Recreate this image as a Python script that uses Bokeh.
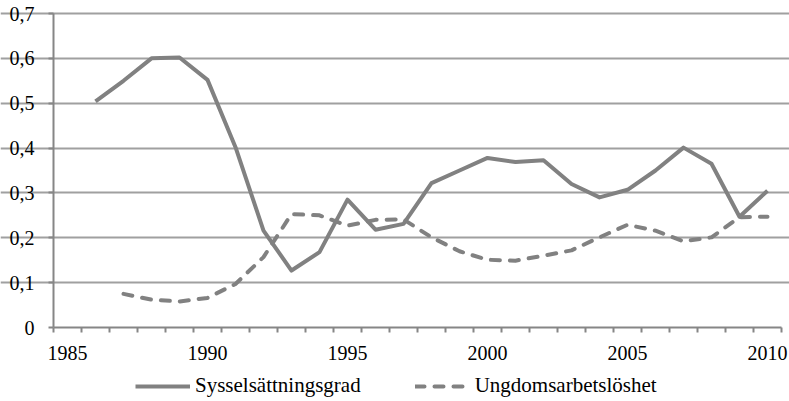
from bokeh.plotting import figure
from bokeh.models import FixedTicker, Legend, LegendItem, Range1d
from bokeh.embed import file_html
from bokeh.resources import INLINE

years_emp = list(range(1986, 2011))
sysselsattning = [0.504, 0.55, 0.600, 0.602, 0.552, 0.402, 0.216, 0.127, 0.168, 0.285,
                  0.218, 0.231, 0.322, 0.350, 0.378, 0.369, 0.373, 0.320, 0.290, 0.307,
                  0.350, 0.401, 0.365, 0.247, 0.305]

years_youth = list(range(1987, 2011))
ungdom = [0.075, 0.062, 0.058, 0.066, 0.097, 0.157, 0.253, 0.250, 0.227, 0.240,
          0.241, 0.201, 0.170, 0.151, 0.149, 0.160, 0.172, 0.201, 0.229, 0.216,
          0.192, 0.201, 0.246, 0.247]

x_ticks = [1985, 1990, 1995, 2000, 2005, 2010]
x_labels = ["1985", "1990", "1995", "2000", "2005", "2010"]
y_ticks = [0, 0.1, 0.2, 0.3, 0.4, 0.5, 0.6, 0.7]
y_labels = ["0", "0,1", "0,2", "0,3", "0,4", "0,5", "0,6", "0,7"]

FONT = "Liberation Serif"
FS = "20px"
LINE = "#818181"

# The frame covers the whole canvas (789 x 401); the plot area itself is
# 728 x 314 px, starting 53 px from the left and 13 px from the top.
X0, X1, Y0, Y1 = 1984.5, 2010.5, 0.0, 0.7
px_x = (X1 - X0) / 728
px_y = (Y1 - Y0) / 314
x_range = Range1d(X0 - 53 * px_x, X1 + 8 * px_x)
y_range = Range1d(Y0 - 74 * px_y, Y1 + 13 * px_y)

p = figure(frame_width=789, frame_height=401, output_backend="svg", toolbar_location=None,
           x_range=x_range, y_range=y_range,
           min_border_left=0, min_border_right=0, min_border_top=0, min_border_bottom=0)
p.outline_line_color = None
p.background_fill_color = "white"
p.border_fill_color = "white"

r1 = p.line(years_emp, sysselsattning, line_color=LINE, line_width=4, line_join="round")
r2 = p.line(years_youth, ungdom, line_color=LINE, line_width=4, line_dash="9 10",
            line_cap="round", line_join="round")

p.xaxis.fixed_location = Y0
p.xaxis.bounds = (X0, X1)
p.xaxis.ticker = FixedTicker(ticks=x_ticks, minor_ticks=[y - 0.5 for y in range(1985, 2012)])
p.xaxis.major_label_overrides = dict(zip(x_ticks, x_labels))
p.xaxis.major_tick_line_color = None
p.xaxis.minor_tick_line_color = "#868686"
p.xaxis.minor_tick_line_width = 2
p.xaxis.minor_tick_out = 5
p.xaxis.minor_tick_in = 0
p.xaxis.major_label_standoff = 12

p.yaxis.fixed_location = X0
p.yaxis.bounds = (Y0, Y1)
p.yaxis.ticker = FixedTicker(ticks=y_ticks, minor_ticks=[])
p.yaxis.major_label_overrides = dict(zip(y_ticks, y_labels))
p.yaxis.major_tick_line_color = "#868686"
p.yaxis.major_tick_line_width = 2
p.yaxis.major_tick_out = 5
p.yaxis.major_tick_in = 0
p.yaxis.minor_tick_line_color = None
p.yaxis.major_label_standoff = 14

for ax in (p.xaxis, p.yaxis):
    ax.axis_line_color = "#868686"
    ax.axis_line_width = 2
    ax.major_label_text_font = FONT
    ax.major_label_text_font_size = FS
    ax.major_label_text_color = "black"

p.xgrid.grid_line_color = None
p.ygrid.ticker = FixedTicker(ticks=y_ticks[1:])
p.ygrid.bounds = (X0, X1)
p.ygrid.grid_line_color = "#a0a0a0"
p.ygrid.grid_line_width = 2

legend = Legend(items=[LegendItem(label="Sysselsättningsgrad", renderers=[r1]),
                       LegendItem(label="Ungdomsarbetslöshet", renderers=[r2])],
                orientation="horizontal", location=(135, 3),
                label_text_font=FONT, label_text_font_size="21px", label_text_color="black",
                glyph_width=55, label_standoff=5, spacing=54, padding=0, margin=0,
                border_line_color=None, background_fill_alpha=0)
p.add_layout(legend, "center")

open("out.html", "w").write(file_html(p, INLINE))
